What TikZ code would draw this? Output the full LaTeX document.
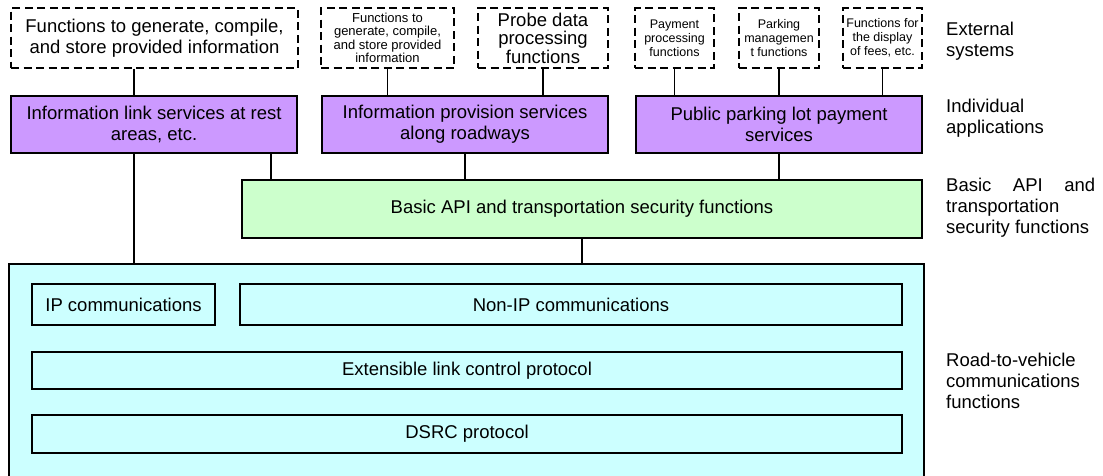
\documentclass[tikz,border=0pt]{standalone}
\usepackage{fontspec}
\setmainfont{Liberation Sans}

\definecolor{appviolet}{HTML}{CC99FF}
\definecolor{apigreen}{HTML}{CCFFCC}
\definecolor{commcyan}{HTML}{CCFFFF}

\tikzset{
	layer/.style={draw, line width=1.5pt, inner sep=0pt, align=center, font=\fontsize{18.5}{21}\selectfont},
	extsys/.style={layer, line width=1.2pt, dash pattern=on 8pt off 4.5pt},
	smalltext/.style={font=\fontsize{12.5}{14}\selectfont},
	app/.style={layer, fill=appviolet},
	conn/.style={line width=1.2pt},
	tag/.style={anchor=west, align=left, inner sep=0pt, font=\fontsize{18.5}{21}\selectfont}
}

\begin{document}
\begin{tikzpicture}[x=1pt,y=-1pt]
	\clip (0,0) rectangle (1103,475);
	% external systems
	\node[extsys, minimum width=287, minimum height=60] (extA) at (154.5,38) {Functions to generate, compile,\\and store provided information};
	\node[extsys, smalltext, font=\fontsize{13}{13.5}\selectfont, minimum width=133, minimum height=60] (extB) at (387.5,38) {Functions to\\generate, compile,\\and store provided\\information};
	\node[extsys, font=\fontsize{18.5}{18.5}\selectfont, minimum width=130, minimum height=60] (extC) at (543,38) {Probe data\\processing\\functions};
	\node[extsys, smalltext, minimum width=79, minimum height=60] (extD) at (674.5,38) {Payment\\processing\\functions};
	\node[extsys, smalltext, minimum width=80, minimum height=60] (extE) at (779,38) {Parking\\managemen\\t functions};
	\node[extsys, smalltext, minimum width=79, minimum height=60] (extF) at (882.5,38) {Functions for\\the display\\of fees, etc.};
	% individual applications
	\node[app, minimum width=286, minimum height=57] (appA) at (154,124.5) {Information link services at rest\\areas, etc.};
	\node[app, minimum width=286, minimum height=57] (appB) at (465,124.5) {Information provision services\\along roadways};
	\node[app, minimum width=286, minimum height=57] (appC) at (779,124.5) {Public parking lot payment\\services};
	% API layer
	\node[layer, fill=apigreen, minimum width=680, minimum height=58] (api) at (582,209) {Basic API and transportation security functions};
	% road-to-vehicle communications
	\node[layer, fill=commcyan, minimum width=915, minimum height=226] (rsu) at (466.5,377) {};
	\node[layer, minimum width=183, minimum height=41] (ip) at (123.5,304.5) {IP communications};
	\node[layer, minimum width=662, minimum height=41] (nonip) at (571,304.5) {Non-IP communications};
	\node[layer, minimum width=870, minimum height=37] (elcp) at (467,370.5) {Extensible link control protocol};
	\node[layer, minimum width=870, minimum height=38] (dsrc) at (467,434) {DSRC protocol};

	\coordinate (colA) at (134,0);
	\coordinate (colB) at (271,0);
	\draw[conn] (extA.south -| colA) -- (appA.north -| colA);
	\draw[conn] (extB.south) -- (extB.south |- appB.north);
	\draw[conn] (extC.south) -- (extC.south |- appB.north);
	\draw[conn] (extD.south) -- (extD.south |- appC.north);
	\draw[conn] (extE.south) -- (extE.south |- appC.north);
	\draw[conn] (extF.south) -- (extF.south |- appC.north);
	\draw[conn] (appA.south -| colA) -- (rsu.north -| colA);
	\draw[conn] (appA.south -| colB) -- (api.north -| colB);
	\draw[conn] (appB.south) -- (appB.south |- api.north);
	\draw[conn] (appC.south) -- (appC.south |- api.north);
	\draw[conn] (api.south) -- (api.south |- rsu.north);

	% layer names
	\node[tag] (tExt) at (946,41.5) {External\\systems};
	\node[tag] (tApp) at (946,118.5) {Individual\\applications};
	\node[tag] (tApi) at (946,208) {\hbox to 149pt{Basic\hfill API\hfill and}\\transportation\\security functions};
	\node[tag] (tRsu) at (946,381) {Road-to-vehicle\\communications\\functions};
\end{tikzpicture}
\end{document}
